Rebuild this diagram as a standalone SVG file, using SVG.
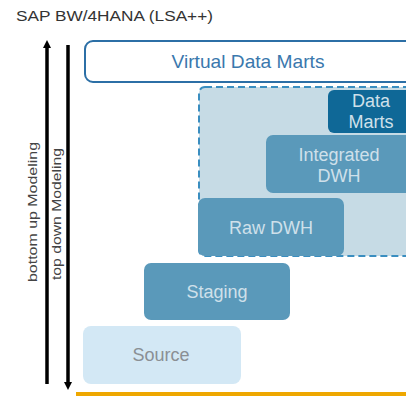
<svg xmlns="http://www.w3.org/2000/svg" width="406" height="400" viewBox="0 0 406 400">
  <defs>
    <marker id="ah" markerWidth="8" markerHeight="8" refX="4" refY="4" orient="auto" markerUnits="userSpaceOnUse">
      <path d="M0,0 L8,4 L0,8 Z" fill="#000"/>
    </marker>
    <style>
      text { font-family: "Liberation Sans", Arial, sans-serif; }
      .lbl { fill: #cfe0ea; font-size: 18px; text-anchor: middle; }
      .mid { fill: #5a99ba; }
      .axis { fill: #444; font-size: 13px; text-anchor: middle; }
    </style>
  </defs>
  <rect width="406" height="400" fill="#fff"/>
  <text x="16" y="21" font-size="15" fill="#333" textLength="197" lengthAdjust="spacingAndGlyphs">SAP BW/4HANA (LSA++)</text>

  <g id="connectors">
    <line x1="47" y1="384" x2="47" y2="44" stroke="#000" stroke-width="3.5" marker-end="url(#ah)"/>
    <line x1="68" y1="45" x2="68" y2="386" stroke="#000" stroke-width="3.5" marker-end="url(#ah)"/>
    <line x1="76" y1="394" x2="406" y2="394" stroke="#eea700" stroke-width="4"/>
  </g>

  <g id="axis-labels">
    <text class="axis" transform="translate(37,212) rotate(-90)" textLength="140" lengthAdjust="spacingAndGlyphs">bottom up Modeling</text>
    <text class="axis" transform="translate(61,214) rotate(-90)" textLength="132" lengthAdjust="spacingAndGlyphs">top down Modeling</text>
  </g>

  <g id="virtual-data-marts">
    <rect x="85" y="41" width="340" height="41" rx="8" fill="#fff" stroke="#2c6fa6" stroke-width="2"/>
    <text x="248" y="68" font-size="19" fill="#3a78ad" text-anchor="middle" textLength="153" lengthAdjust="spacingAndGlyphs">Virtual Data Marts</text>
  </g>

  <g id="edw-area">
    <rect x="199" y="87" width="230" height="169" rx="6" fill="#c6dbe5" stroke="#3a8ec0" stroke-width="2" stroke-dasharray="7,4"/>
  </g>

  <g id="data-marts">
    <rect x="328" y="90" width="100" height="43" rx="6" fill="#0f6897"/>
    <text class="lbl" x="371" y="107">Data</text>
    <text class="lbl" x="371" y="128">Marts</text>
  </g>

  <g id="integrated-dwh">
    <rect x="266" y="135" width="160" height="58" rx="7" class="mid"/>
    <text class="lbl" x="339" y="161">Integrated</text>
    <text class="lbl" x="339" y="182">DWH</text>
  </g>

  <g id="raw-dwh">
    <rect x="198" y="198" width="146" height="58" rx="7" class="mid"/>
    <text class="lbl" x="271" y="234">Raw DWH</text>
  </g>

  <g id="staging">
    <rect x="144" y="263" width="146" height="57" rx="7" class="mid"/>
    <text class="lbl" x="217" y="298">Staging</text>
  </g>

  <g id="source">
    <rect x="83" y="326" width="158" height="58" rx="8" fill="#d3e8f5"/>
    <text x="161" y="361" font-size="18" fill="#8a8f94" text-anchor="middle">Source</text>
  </g>
</svg>
